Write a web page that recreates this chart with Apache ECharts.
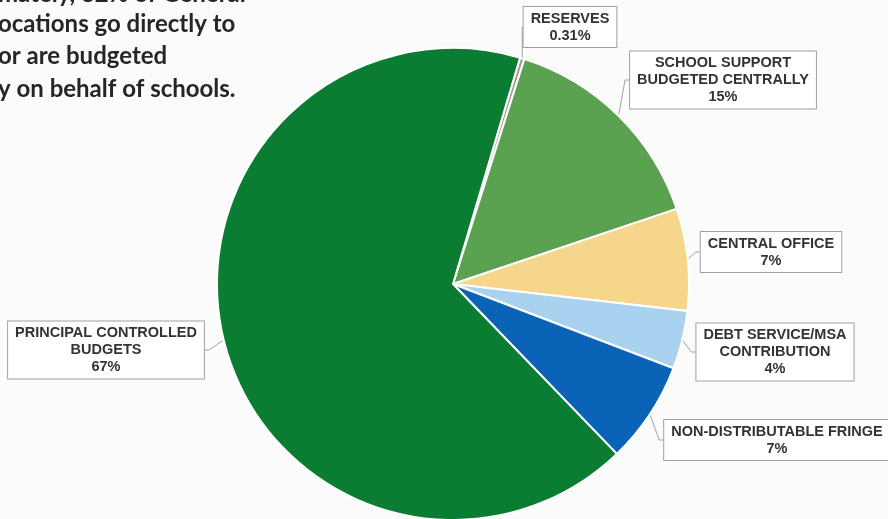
<!DOCTYPE html>
<html>
<head>
<meta charset="utf-8">
<script src="https://cdn.jsdelivr.net/npm/echarts@6/dist/echarts.min.js"></script>
<style>
html,body{margin:0;padding:0;background:#fbfbfb;}
#chart{width:888px;height:519px;}
</style>
</head>
<body>
<div id="chart"></div>
<script>
// Data
var categories = [
  'RESERVES',
  'SCHOOL SUPPORT\nBUDGETED CENTRALLY',
  'CENTRAL OFFICE',
  'DEBT SERVICE/MSA\nCONTRIBUTION',
  'NON-DISTRIBUTABLE FRINGE',
  'PRINCIPAL CONTROLLED\nBUDGETS'
];
var shares = [0.31, 15, 7, 4, 7, 67];
var introLines = [
  'mately, 82% of General',
  'ocations go directly to',
  'or are budgeted',
  'y on behalf of schools.'
];

// Styles (not data)
var colors = ['#a99a9c', '#5aa24f', '#f6d68b', '#a8d2f0', '#0b63b8', '#0a7d32'];
var labelCenters = [[570, 27], [723, 80], [771, 252], [775, 352], [777, 440], [106, 350]];
var introPos = [[-2, -6], [-2, 24], [-2, 56], [-2, 89]];

var chart = echarts.init(document.getElementById('chart'));
var pieData = categories.map(function (c, i) {
  return { name: c, value: shares[i], itemStyle: { color: colors[i] } };
});

chart.setOption({
  backgroundColor: '#fbfbfb',
  animation: false,
  graphic: introLines.map(function (t, i) {
    return {
      type: 'text',
      x: introPos[i][0],
      y: introPos[i][1],
      z: 10,
      style: {
        text: t,
        fill: '#262626',
        font: 'bold 24px Lato',
        textAlign: 'left',
        textVerticalAlign: 'middle'
      }
    };
  }),
  series: [{
    type: 'pie',
    center: [453, 284],
    radius: 236,
    startAngle: 73.5,
    clockwise: true,
    avoidLabelOverlap: false,
    data: pieData,
    itemStyle: { borderColor: '#fff', borderWidth: 2 },
    label: {
      show: true,
      formatter: function (p) { return p.name + '\n' + p.value + '%'; },
      fontFamily: 'Liberation Sans, Arial, sans-serif',
      fontWeight: 'bold',
      fontSize: 14.5,
      lineHeight: 17,
      color: '#333',
      align: 'center',
      backgroundColor: '#fff',
      borderColor: '#a0a0a0',
      borderWidth: 1,
      padding: [4, 7, 2, 7]
    },
    labelLine: {
      show: true,
      length: 6,
      length2: 4,
      smooth: false,
      lineStyle: { color: '#a0a0a0', width: 1 }
    },
    labelLayout: function (params) {
      var c = labelCenters[params.dataIndex];
      return { x: c[0], y: c[1], align: 'center', verticalAlign: 'middle' };
    },
    emphasis: { disabled: true }
  }]
});
</script>
</body>
</html>
